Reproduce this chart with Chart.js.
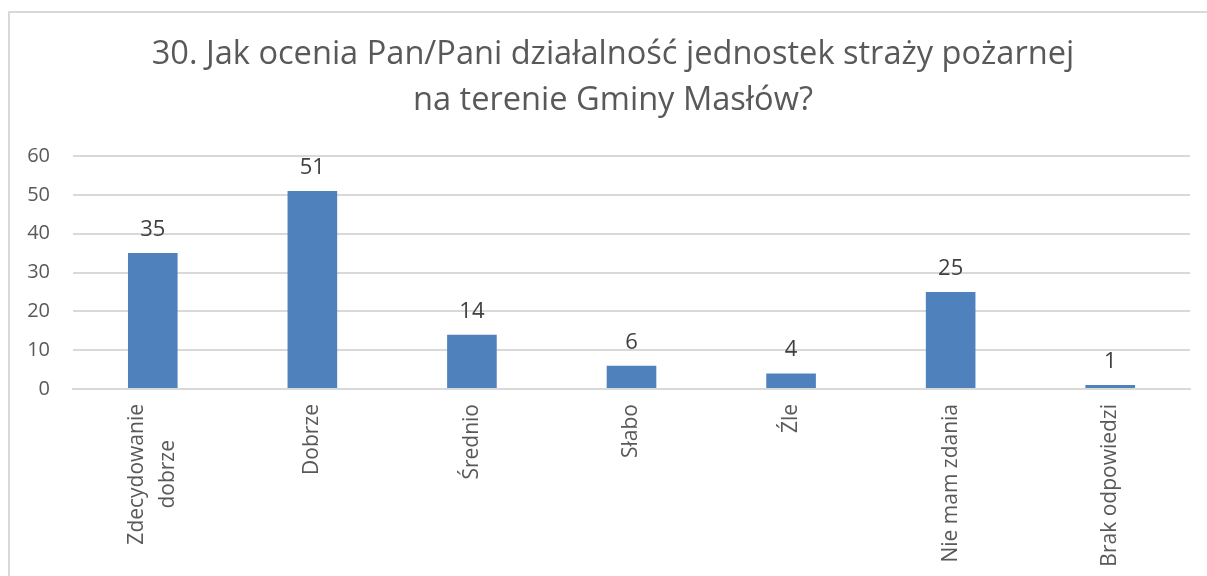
<!DOCTYPE html>
<html>
<head>
<meta charset="utf-8">
<script src="https://cdn.jsdelivr.net/npm/chart.js@4/dist/chart.umd.min.js"></script>
<style>
  html, body { margin: 0; padding: 0; background: #fff; }
  #wrap { position: relative; width: 1207px; height: 576px; overflow: hidden; }
  #frame { position: absolute; left: 8px; top: 11px; width: 1300px; height: 700px;
           border-left: 2px solid #d9d9d9; border-top: 2px solid #d9d9d9; box-sizing: border-box; }
  canvas { position: absolute; left: 0; top: 0; }
</style>
</head>
<body>
<div id="wrap">
  <div id="frame"></div>
  <canvas id="c" width="1207" height="576"></canvas>
</div>
<script>
const titleLines = ["30. Jak ocenia Pan/Pani działalność jednostek straży pożarnej", "na terenie Gminy Masłów?"];
const categories = [["Zdecydowanie", "dobrze"], "Dobrze", "Średnio", "Słabo", "Źle", "Nie mam zdania", "Brak odpowiedzi"];
const values = [35, 51, 14, 6, 4, 25, 1];
const yTicks = [0, 10, 20, 30, 40, 50, 60];

const FONT = "'Open Sans', 'Noto Sans', sans-serif";
const X_FONT_SIZE = 21;
const X_LINE_HEIGHT = 31;

const helper = {
  id: 'helper',
  afterLayout(chart) {
    if (chart.titleBlock) { chart.titleBlock.left = 36; }
  },
  beforeDraw(chart) {
    const scale = chart.scales.x;
    const items = scale.getLabelItems(chart.chartArea);
    const ctx = chart.ctx;
    ctx.save();
    ctx.font = X_FONT_SIZE + "px " + FONT;
    items.forEach(item => {
      if (Array.isArray(item.label) && item.label.length > 1 && !item._adj) {
        const n = item.label.length;
        const w = Math.max(...item.label.map(s => ctx.measureText(s).width));
        item.textOffset -= (n - 1) * X_LINE_HEIGHT / 2;
        item.options.textAlign = 'center';
        item.options.translation = [item.options.translation[0], item.options.translation[1] + w / 2];
        item._adj = true;
      }
    });
    ctx.restore();
  },
  afterDatasetsDraw(chart) {
    const ctx = chart.ctx;
    const meta = chart.getDatasetMeta(0);
    ctx.save();
    ctx.font = "22px " + FONT;
    ctx.fillStyle = "#404040";
    ctx.textAlign = "center";
    ctx.textBaseline = "alphabetic";
    meta.data.forEach((bar, i) => {
      ctx.fillText(String(values[i]), bar.x, bar.y - 17);
    });
    ctx.restore();
  }
};

new Chart(document.getElementById('c'), {
  type: 'bar',
  data: {
    labels: categories,
    datasets: [{
      data: values,
      backgroundColor: '#4f81bd',
      borderWidth: 0,
      barPercentage: 0.311,
      categoryPercentage: 1.0
    }]
  },
  options: {
    responsive: false,
    animation: false,
    events: [],
    layout: { padding: { left: 0, right: 17, top: 0, bottom: 0 } },
    plugins: {
      legend: { display: false },
      tooltip: { enabled: false },
      title: {
        display: true,
        text: titleLines,
        color: '#595959',
        font: { family: FONT, size: 32.6, weight: 'normal', lineHeight: 46 / 32.6 },
        padding: { top: 32, bottom: 32 }
      }
    },
    scales: {
      x: {
        grid: { display: false, drawTicks: false },
        border: { display: true, color: '#d9d9d9', width: 2 },
        ticks: {
          color: '#595959',
          font: { family: FONT, size: X_FONT_SIZE, lineHeight: X_LINE_HEIGHT / X_FONT_SIZE },
          minRotation: 90, maxRotation: 90,
          padding: 15,
          autoSkip: false
        },
        afterFit(scale) { scale.height = 187; }
      },
      y: {
        min: 0, max: 60,
        afterBuildTicks(scale) { scale.ticks = yTicks.map(v => ({ value: v })); },
        grid: { color: '#d9d9d9', lineWidth: 2, drawTicks: false },
        border: { display: false },
        ticks: {
          color: '#595959',
          font: { family: FONT, size: 20 },
          padding: 23
        },
        afterFit(scale) { scale.width = 73; }
      }
    }
  },
  plugins: [helper]
});
</script>
</body>
</html>
